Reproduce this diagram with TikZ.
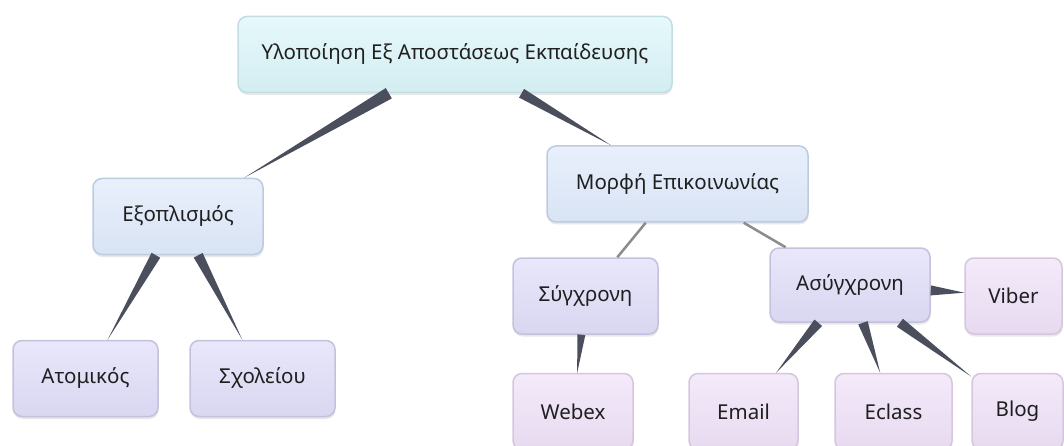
\documentclass[tikz,border=0pt]{standalone}
\usepackage{fontspec}
\setmainfont{Noto Sans}
\usepackage{tikz}
\usetikzlibrary{calc,shadows}

\definecolor{topA}{HTML}{E6F9FC}
\definecolor{topB}{HTML}{D3EDF1}
\definecolor{topL}{HTML}{C3DDE2}
\definecolor{blueA}{HTML}{E9F0FC}
\definecolor{blueB}{HTML}{D8E3F4}
\definecolor{blueL}{HTML}{BDCBE0}
\definecolor{lavA}{HTML}{E9E7FA}
\definecolor{lavB}{HTML}{D9D7F1}
\definecolor{lavL}{HTML}{C5C1DC}
\definecolor{pinkA}{HTML}{F4EAFA}
\definecolor{pinkB}{HTML}{E7DAF0}
\definecolor{pinkL}{HTML}{D5C6DD}
\definecolor{wedgegray}{HTML}{4B4E5C}
\definecolor{linegray}{HTML}{8C8C8C}

\tikzset{
  box/.style={rounded corners=9pt, line width=1.5pt, minimum height=76pt,
    font=\fontsize{20.5}{24}\selectfont, text=black!88,
    drop shadow={opacity=0.18, shadow xshift=0.5pt, shadow yshift=-2.5pt}},
  rootbox/.style={box, draw=topL, top color=topA, bottom color=topB},
  midbox/.style={box, draw=blueL, top color=blueA, bottom color=blueB},
  subbox/.style={box, draw=lavL, top color=lavA, bottom color=lavB},
  leafbox/.style={box, draw=pinkL, top color=pinkA, bottom color=pinkB},
  wedge/.style={fill=wedgegray},
  thinlink/.style={draw=linegray, line width=2.5pt},
}

\newcommand\taper[3]{%
  \path (#1) -- (#2) coordinate[pos=0] (tp0) coordinate[pos=1] (tp1);
  \fill[wedge] ($(tp0)!#3!90:(tp1)$) -- (tp1) -- ($(tp0)!#3!-90:(tp1)$) -- cycle;}

\begin{document}
\begin{tikzpicture}[x=1pt,y=-1pt]
\useasboundingbox (0,0) rectangle (1064,446);
\node[rootbox, minimum width=434pt] (root) at (455,54.5) {Υλοποίηση Εξ Αποστάσεως Εκπαίδευσης};
\node[midbox, minimum width=170pt] (equip) at (178,216.5) {Εξοπλισμός};
\node[midbox, minimum width=261pt] (form) at (677.5,184) {Μορφή Επικοινωνίας};
\node[subbox, minimum width=145pt] (personal) at (85.5,378.5) {Ατομικός};
\node[subbox, minimum width=145pt] (school) at (262.5,378.5) {Σχολείου};
\node[subbox, minimum width=145pt] (sync) at (585.5,296) {Σύγχρονη};
\node[subbox, minimum width=160pt, minimum height=74pt] (async) at (850,285) {Ασύγχρονη};
\node[leafbox, minimum width=97pt] (viber) at (1013.5,296) {Viber};
\node[leafbox, minimum width=120pt] (webex) at (573,411.5) {Webex};
\node[leafbox, minimum width=109pt] (email) at (743.5,411.5) {Email};
\node[leafbox, minimum width=117pt] (eclass) at (893.5,411.5) {Eclass};
\node[leafbox, minimum width=91pt] (blog) at (1017.5,411.5) {Blog};

\taper{root}{equip}{6pt}
\taper{root}{form}{5pt}
\taper{equip}{personal}{5pt}
\taper{equip}{school}{5pt}
\draw[thinlink] (form) -- (sync);
\draw[thinlink] (form) -- (async);
\taper{sync}{webex}{4pt}
\taper{async}{email}{5pt}
\taper{async}{eclass}{5pt}
\taper{async}{blog}{5pt}
\taper{async}{viber}{5pt}
\end{tikzpicture}
\end{document}
